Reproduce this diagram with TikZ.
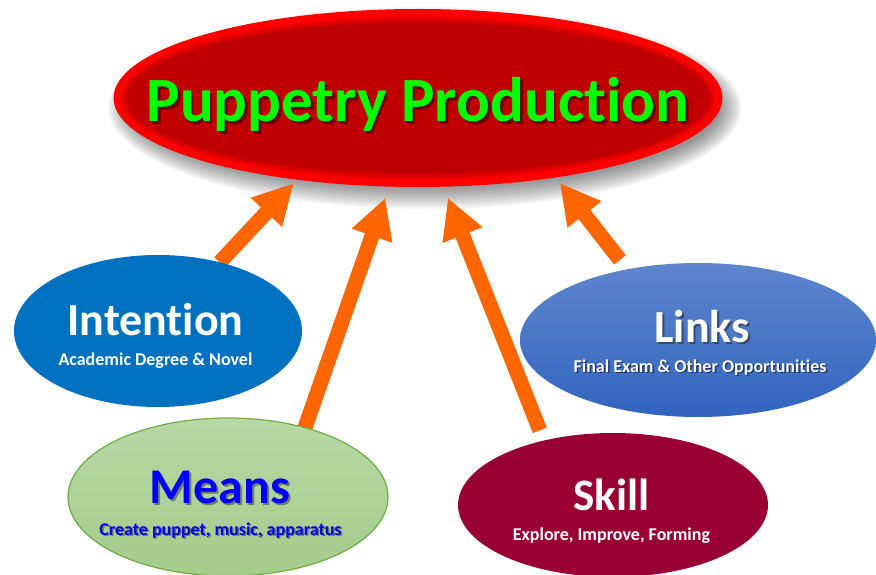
\documentclass[tikz,border=0pt]{standalone}
\usepackage{fontspec}
\setmainfont{Carlito}[Ligatures=NoCommon]
\usetikzlibrary{arrows.meta,shapes.geometric}

\definecolor{darkred}{RGB}{192,0,0}
\definecolor{titlegreen}{RGB}{0,255,0}
\definecolor{intblue}{RGB}{0,112,192}
\definecolor{linkstop}{RGB}{94,134,206}
\definecolor{linksbot}{RGB}{50,100,190}
\definecolor{meanstop}{RGB}{184,216,164}
\definecolor{meansbot}{RGB}{164,204,138}
\definecolor{meansedge}{RGB}{112,173,71}
\definecolor{meanstext}{RGB}{0,0,255}
\definecolor{skillred}{RGB}{153,0,51}
\definecolor{arrorange}{RGB}{255,102,0}

% text with a small dark copy behind it, offset down and right
\newcommand\shadedtext[3][2pt]{\leavevmode\rlap{\hspace{#1}\raisebox{-#1}{\textcolor{#2}{#3}}}#3}

\pgfdeclarelayer{titlelayer}
\pgfdeclarelayer{arrowlayer}
\pgfsetlayers{titlelayer,arrowlayer,main}

\begin{document}
\begin{tikzpicture}[x=1pt,y=-1pt,
  blob/.style={ellipse, inner sep=0pt, outer sep=0pt},
  headline/.style={font=\bfseries\fontsize{46}{50}\selectfont, anchor=base, inner sep=0pt},
  subline/.style={font=\bfseries\fontsize{18}{21}\selectfont, anchor=base, inner sep=0pt},
  push/.style={line width=15pt, draw=arrorange, -{Triangle[width=40pt,length=40pt]}},
]
\useasboundingbox (0,0) rectangle (876,575);

% ---- the five ellipses ----
\node[blob, minimum width=609pt, minimum height=178pt] (title) at (418,98) {};
\node[blob, fill=intblue, minimum width=288pt, minimum height=152pt] (intention) at (158,331) {};
\node[blob, top color=linkstop, bottom color=linksbot, minimum width=356pt, minimum height=154pt] (links) at (698,340) {};
\node[blob, top color=meanstop, bottom color=meansbot, draw=meansedge, line width=1.2pt,
      minimum width=320pt, minimum height=158pt] (means) at (228,497) {};
\node[blob, fill=skillred, minimum width=310pt, minimum height=144pt] (skill) at (613,505) {};

% ---- title ellipse: soft drop shadow, red rim fading into dark red ----
\begin{pgfonlayer}{titlelayer}
  \foreach \i in {0,...,11}
    \fill[black, opacity=0.045] ([shift={(7,10)}]title.center)
      ellipse [x radius={316.5-2*\i}, y radius={101-2*\i}];
  \fill[red] (title.center) ellipse [x radius=304.5, y radius=89];
  \foreach \i in {0,...,8} {
    \pgfmathsetmacro\pct{100-12.5*\i}
    \fill[red!\pct!darkred] (title.center) ellipse [x radius={298.5-\i}, y radius={83-\i}];
  }
\end{pgfonlayer}

% ---- arrows into the title ----
\begin{pgfonlayer}{arrowlayer}
  \draw[push, shorten >=4.8pt] (intention.48) -- (title.214);
  \draw[push, shorten >=12pt] (means.42) -- (title.252);
  \draw[push, shorten <=11pt, shorten >=12pt] (skill.137) -- (title.286);
  \draw[push, shorten <=12pt, shorten >=7pt] (links.135) -- (title.330);
\end{pgfonlayer}

% ---- texts ----
\node[font=\bfseries\fontsize{63}{66}\selectfont, anchor=base, inner sep=0pt, text=titlegreen]
  (titletxt) at (418,122) {\shadedtext[2.5pt]{darkred!55!black}{Puppetry Production}};

\node[headline, text=white] (intentionhd) at (155.5,335) {Intention};
\node[subline, text=white] (intentionsub) at (155.5,365) {Academic Degree \& Novel};

\node[headline, text=white] (linkshd) at (702,342) {\shadedtext{linkstop!55!black}{Links}};
\node[subline, text=white] (linkssub) at (700,372) {\shadedtext[1.5pt]{linksbot!55!black}{Final Exam \& Other Opportunities}};

\node[headline, font=\bfseries\fontsize{50}{54}\selectfont, text=meanstext]
  (meanshd) at (220,503) {\shadedtext{meanstop!60!black}{Means}};
\node[subline, text=meanstext] (meanssub) at (220.5,535) {\shadedtext[1.5pt]{meansbot!60!black}{Create puppet, music, apparatus}};

\node[headline, font=\bfseries\fontsize{45}{50}\selectfont, text=white] (skillhd) at (611.5,510) {Skill};
\node[subline, text=white] (skillsub) at (611.5,540) {Explore, Improve, Forming};
\end{tikzpicture}
\end{document}
